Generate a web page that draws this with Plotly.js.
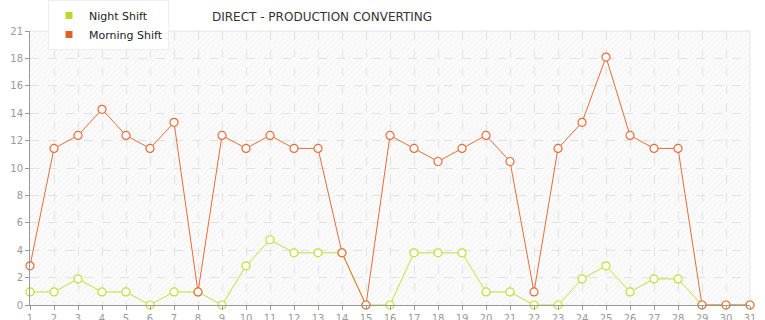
<!DOCTYPE html>
<html>
<head>
<meta charset="utf-8">
<script src="https://cdn.plot.ly/plotly-3.0.1.min.js"></script>
<style>html,body{margin:0;padding:0;background:#fff;}#chart{width:765px;height:320px;}</style>
</head>
<body>
<div id="chart"></div>
<script>
const days = [1,2,3,4,5,6,7,8,9,10,11,12,13,14,15,16,17,18,19,20,21,22,23,24,25,26,27,28,29,30,31];
const nightShift = [1,1,2,1,1,0,1,1,0,3,5,4,4,4,0,0,4,4,4,1,1,0,0,2,3,1,2,2,0,0,0];
const morningShift = [3,12,13,15,13,12,14,1,13,12,13,12,12,4,0,13,12,11,12,13,11,1,12,14,19,13,12,12,0,0,0];
const yTickVals = [0,2.1,4.2,6.3,8.4,10.5,12.6,14.7,16.8,18.9,21];
const yTickText = ["0","2","4","6","8","10","12","14","16","18","21"];
const seriesNames = ["Night Shift","Morning Shift"];
const lineColors = ["#c3de3c","#e56d3a"];
const legendColors = ["#b8d92a","#e0602a"];

const font = "DejaVu Sans, Verdana, sans-serif";

// subtle diagonal hatch background for the plot area
const hatchSvg = '<svg xmlns="http://www.w3.org/2000/svg" width="720" height="275">' +
  '<defs><pattern id="h" width="4" height="4" patternUnits="userSpaceOnUse" patternTransform="rotate(45)">' +
  '<rect width="4" height="4" fill="#fbfbfb"/><line x1="0" y1="0" x2="0" y2="4" stroke="#ececec" stroke-width="1.2"/></pattern></defs>' +
  '<rect width="720" height="275" fill="url(#h)"/></svg>';
const hatchSrc = "data:image/svg+xml;charset=utf-8," + encodeURIComponent(hatchSvg);

const traces = [
  {x: days, y: nightShift, name: seriesNames[0], mode: "lines+markers", showlegend: false,
   line: {color: lineColors[0], width: 1},
   marker: {symbol: "circle", size: 8, color: "#ffffff", line: {color: lineColors[0], width: 1.2}},
   cliponaxis: false, hoverinfo: "skip"},
  {x: days, y: morningShift, name: seriesNames[1], mode: "lines+markers", showlegend: false,
   line: {color: lineColors[1], width: 1},
   marker: {symbol: "circle", size: 8, color: "#ffffff", line: {color: lineColors[1], width: 1.2}},
   cliponaxis: false, hoverinfo: "skip"},
  {x: [null], y: [null], name: seriesNames[0], mode: "markers", showlegend: true,
   marker: {symbol: "square", size: 7, color: legendColors[0]}},
  {x: [null], y: [null], name: seriesNames[1], mode: "markers", showlegend: true,
   marker: {symbol: "square", size: 7, color: legendColors[1]}}
];

const layout = {
  width: 765, height: 320,
  margin: {l: 30, r: 15, t: 31, b: 15, pad: 0, autoexpand: false},
  paper_bgcolor: "#ffffff",
  plot_bgcolor: "#fafafa",
  font: {family: font, size: 10, color: "#999999"},
  title: {text: "DIRECT - PRODUCTION CONVERTING", xref: "container", yref: "container",
          x: 0.421, xanchor: "center", y: 0.947, yanchor: "middle",
          font: {family: font, size: 12, color: "#333333"}},
  showlegend: true,
  legend: {x: 48/765, xref: "container", xanchor: "left", y: 1.01, yref: "container", yanchor: "top",
           bgcolor: "#ffffff", bordercolor: "#eeeeee", borderwidth: 1,
           font: {family: font, size: 11, color: "#222222"},
           tracegroupgap: 0, itemwidth: 30},
  images: [{source: hatchSrc, xref: "paper", yref: "paper", x: 0, y: 1, sizex: 1, sizey: 1,
            xanchor: "left", yanchor: "top", sizing: "stretch", layer: "below"}],
  xaxis: {range: [1, 31], tickmode: "array", tickvals: days, ticktext: days.map(String),
          showgrid: true, gridcolor: "#e2e2e2", griddash: "dash", gridwidth: 1,
          showline: true, linecolor: "#999999", linewidth: 1,
          ticks: "outside", ticklen: 4, tickcolor: "#999999",
          zeroline: false, fixedrange: true, automargin: false,
          tickfont: {family: font, size: 10, color: "#999999"}},
  yaxis: {range: [0, 21], tickmode: "array", tickvals: yTickVals, ticktext: yTickText,
          showgrid: true, gridcolor: "#e2e2e2", griddash: "dash", gridwidth: 1,
          showline: true, linecolor: "#999999", linewidth: 1,
          ticks: "outside", ticklen: 4, tickcolor: "#999999",
          zeroline: false, fixedrange: true, automargin: false,
          tickfont: {family: font, size: 10, color: "#999999"}},
  shapes: [
    {type: "line", xref: "paper", yref: "paper", x0: 0, x1: 1, y0: 1, y1: 1, line: {color: "#e6e6e6", width: 1}, layer: "below"},
    {type: "line", xref: "paper", yref: "paper", x0: 1, x1: 1, y0: 0, y1: 1, line: {color: "#e6e6e6", width: 1}, layer: "below"}
  ]
};

Plotly.newPlot("chart", traces, layout, {staticPlot: true, displayModeBar: false});
</script>
</body>
</html>
